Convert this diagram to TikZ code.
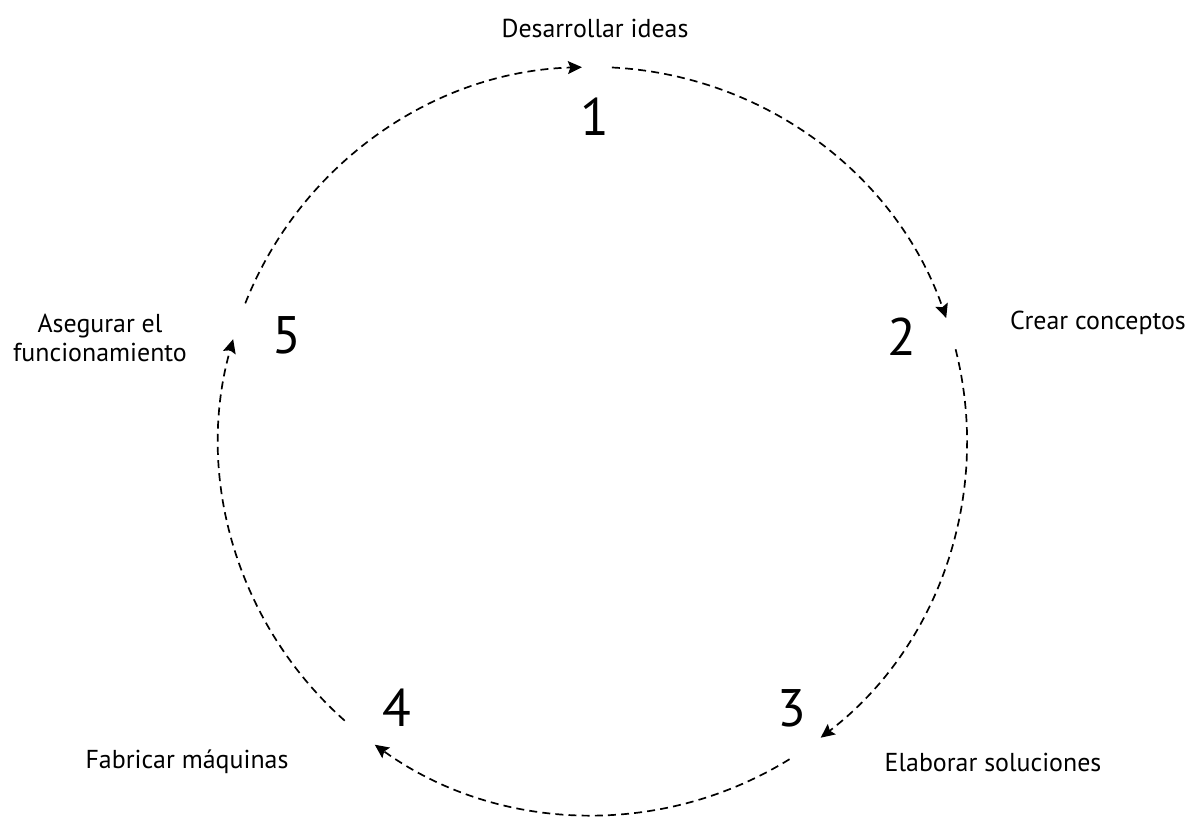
\documentclass[tikz,border=0pt]{standalone}
\usepackage{fontspec}
\setmainfont{PT Sans}
\usetikzlibrary{arrows.meta,calc}

\tikzset{
    flow/.style={line width=0.85pt, dash pattern=on 4pt off 2.6pt,
        -{Stealth[length=7pt, width=6.5pt, inset=1.2pt]}},
    stepnum/.style={font=\fontsize{26.5}{30}\selectfont},
    steplabel/.style={font=\fontsize{13}{14.5}\selectfont, align=center}
}

\begin{document}
\begin{tikzpicture}[x=0.5bp, y=0.5bp]
    \useasboundingbox (0,0) rectangle (1192,819);

    % -------------------------------
    % Centro del ciclo
    % -------------------------------
    \coordinate (c) at (593,378);

    % -------------------------------
    % Numeros de las etapas
    % -------------------------------
    \node[stepnum] (n1) at (595,702) {1};
    \node[stepnum] (n2) at (902,482) {2};
    \node[stepnum] (n3) at (792,111) {3};
    \node[stepnum] (n4) at (397,111) {4};
    \node[stepnum] (n5) at (287,484) {5};

    % -------------------------------
    % Textos de las etapas
    % -------------------------------
    \node[steplabel] (l1) at (595,791) {Desarrollar ideas};
    \node[steplabel] (l2) at (1098,496) {Crear conceptos};
    \node[steplabel] (l3) at (993,57) {Elaborar soluciones};
    \node[steplabel] (l4) at (187,57) {Fabricar máquinas};
    \node[steplabel] (l5) at (100,481) {Asegurar el\\funcionamiento};

    % -------------------------------
    % Flechas del ciclo
    % -------------------------------
    \foreach \s/\e in {158.4/91.7, 87.1/19.2, 14.2/-52.5, -58.3/-125.7, 228.4/164.2} {
        \draw[flow] ($(c)+(\s:374)$) arc[start angle=\s, end angle=\e, radius=374];
    }

\end{tikzpicture}
\end{document}
